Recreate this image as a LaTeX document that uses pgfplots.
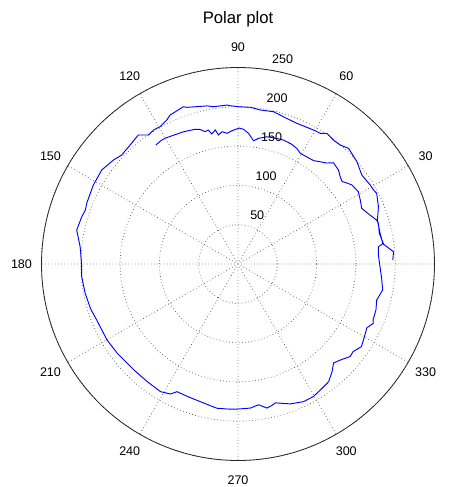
\documentclass[border=0pt]{standalone}
\usepackage{fontspec}
\setmainfont{Liberation Sans}
\usepackage{pgfplots}
\pgfplotsset{compat=1.18}
\usepgfplotslibrary{polar}
\newcommand{\ticksz}{\fontsize{9.4}{11}\selectfont}
\begin{document}
\begin{tikzpicture}
\begin{polaraxis}[
  scale only axis, width=294.75pt, height=294.75pt,
  xmin=0, xmax=360, ymin=0, ymax=250,
  xtick={0,30,...,330}, ytick={50,100,150,200,250},
  xticklabels={}, yticklabels={},
  major tick length=0pt,
  grid=major,
  major grid style={dotted, line width=0.6pt, black!75},
  separate axis lines,
  x axis line style={line width=0.6pt, black!85},
  y axis line style={draw=none},
  clip=false,
]
\coordinate (c) at (axis cs:0,0);
\addplot[blue, line width=0.7pt, no markers] coordinates {
(124.6,184) (122,185) (120.1,185) (116,183) (112.5,182) (108,180) (105.8,178)
(104,173.5) (102.5,174.6) (101.4,168.7) (99.6,173) (98.6,166) (96.9,169.5)
(94.8,166.9) (92.6,169.7) (89.5,173) (87.6,171.5) (85.4,166.8) (82.8,158)
(80.7,162) (77.2,166) (73.5,167) (69.8,168) (66,167) (63,165) (60.6,161.6)
(57,162) (53.8,163) (50.5,168) (48.7,171) (46.7,177) (43,175) (40.5,171)
(38.4,169) (36.5,173) (34.7,176.5) (31,178.6) (27.6,175.6) (24.2,172.6)
(20.4,179) (17.6,185) (16.2,186) (12.3,184) (8.1,186.7) (7,180) (3.7,179)
(-1.1,180.7) (-5.7,183.7) (-10.2,187) (-14.6,182.3) (-18.4,185) (-22.5,186)
(-23.7,188) (-26.3,183) (-30.5,186) (-33.8,189) (-37.3,184) (-39.5,185)
(-43.2,178.5) (-46,175) (-48.9,182) (-52.4,189) (-56,191) (-60.3,194)
(-64.5,194) (-69.5,190) (-74.9,183) (-76.5,185) (-78.6,187) (-81.7,181)
(-85.1,184) (-89.8,184.5) (-93,185) (-98.3,185.5) (-105.3,181.6) (-110,180.5)
(-115.5,180) (-117.5,186.5) (-121.3,190) (-127.7,189) (-134.5,189) (-143.6,191)
(-149.9,192.7) (-158.4,193.4) (-163,196) (-169.2,198) (-175.4,199.5) (-180,199)
(-186.2,202) (-191.9,209.7) (-196.8,207.7) (-199.4,206) (-201.9,207.4)
(-208.6,209.7) (-214.6,210.6) (-219.8,206.5) (-223.1,202.8) (-227.8,204.4)
(-232.3,207.4) (-235.2,199.9) (-238,201.5) (-240.4,200.9) (-243.7,204.4)
(-245.5,208.3) (-250.8,211.8) (-252,209.6) (-258.9,205) (-261.2,202.5)
(-266,202.7) (-267.2,201.6) (-270.5,200) (-274.5,200) (-278.2,198) (-283.2,199)
(-287.2,196) (-292.5,194) (-299.4,195.7) (-302.2,196.5) (-304.3,201)
(-307.6,199) (-310.7,199.6) (-313.7,203.6) (-319.3,199.6) (-324.3,194)
(-329.2,196) (-331.4,196.5) (-333,198) (-337.8,193) (-342.5,186) (-347.5,185)
(-352,186) (-355.5,198.6) (-358.5,197)
};
\pgfplotsinvokeforeach{30,60,90,120,150,180,210,240,270,300,330}{
  \node[anchor=center, font=\ticksz] at (axis cs:#1,275.5) {#1};
}
\pgfplotsinvokeforeach{50,100,150,200,250}{
  \node[anchor=south west, inner sep=0pt, xshift=4.9pt, yshift=4.2pt, font=\ticksz] at (axis cs:82,#1) {#1};
}
\node[anchor=center, font=\fontsize{12.5}{15}\selectfont] at (axis cs:90,311.7) {Polar plot};
\end{polaraxis}
\pgfresetboundingbox
\path[use as bounding box] (c) ++(-178.5pt,-167.25pt) rectangle ++(336.75pt,365.25pt);
\end{tikzpicture}
\end{document}
